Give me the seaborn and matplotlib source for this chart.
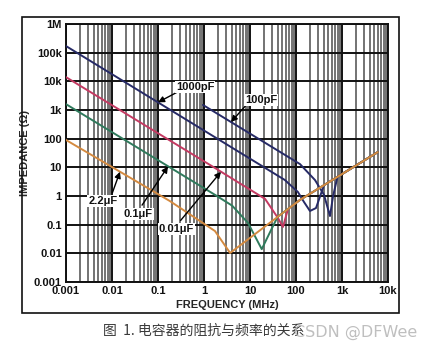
import matplotlib
matplotlib.use("Agg")
import matplotlib.pyplot as plt
import matplotlib.ticker as mticker
from matplotlib.patches import Rectangle
import pandas as pd
import seaborn as sns

# Impedance (ohm) versus frequency (MHz) for each capacitor
freq_100pF = [0.95, 122, 259, 406, 548, 640, 800, 6000]
imp_100pF = [1500, 13, 3.6, 1.1, 0.2, 1.0, 4.7, 34]

freq_1000pF = [0.001, 57.5, 110, 149, 201, 272, 406, 6000]
imp_1000pF = [170000, 3.6, 1.38, 0.62, 0.30, 0.38, 2.4, 34]

freq_0_01uF = [0.001, 1.73, 21.3, 40.6, 52, 67, 122, 6000]
imp_0_01uF = [14000, 9.5, 0.79, 0.17, 0.083, 0.35, 0.73, 34]

freq_0_1uF = [0.001, 1.73, 4.1, 9.05, 18, 28, 40, 122, 6000]
imp_0_1uF = [1600, 1.1, 0.46, 0.115, 0.014, 0.06, 0.19, 0.73, 34]

freq_2_2uF = [0.001, 0.18, 1.73, 3.7, 122, 6000]
imp_2_2uF = [90, 0.67, 0.06, 0.0103, 0.73, 34]

capacitors = ["100pF", "1000pF", "0.01μF", "0.1μF", "2.2μF"]
colors = ["#262a66", "#262a66", "#c43a62", "#2f7a5c", "#d48a40"]

x_ticks = [0.001, 0.01, 0.1, 1, 10, 100, 1000, 10000]
x_tick_labels = ["0.001", "0.01", "0.1", "1", "10", "100", "1k", "10k"]
y_ticks = [0.001, 0.01, 0.1, 1, 10, 100, 1e3, 1e4, 1e5, 1e6]
y_tick_labels = ["0.001", "0.01", "0.1", "1", "10", "100", "1k", "10k", "100k", "1M"]

# Curve labels: text, label position, arrow tail and tip (data coordinates)
label_text = ["1000pF", "100pF", "2.2μF", "0.1μF", "0.01μF"]
label_pos = [(0.64, 6300), (17.3, 2230), (0.0064, 0.67), (0.037, 0.23), (0.25, 0.07)]
label_tip = [(0.1, 1850), (3.86, 380), (0.0149, 7.0), (0.165, 10.7), (2.34, 7.0)]
label_tail = [(0.27, 4300), (8.0, 1400), (0.0102, 1.3), (0.045, 0.48), (0.31, 0.14)]

series = [(freq_100pF, imp_100pF), (freq_1000pF, imp_1000pF),
          (freq_0_01uF, imp_0_01uF), (freq_0_1uF, imp_0_1uF),
          (freq_2_2uF, imp_2_2uF)]
frames = []
for name, (f, z) in zip(capacitors, series):
    frames.append(pd.DataFrame({"freq": f, "imp": z, "cap": name}))
df = pd.concat(frames, ignore_index=True)

sns.set_theme(style="white")
plt.rcParams["font.family"] = ["Liberation Sans", "DejaVu Sans"]

fig = plt.figure(figsize=(4.29, 3.49), dpi=100)
ax = fig.add_axes([66 / 429, 1 - 282 / 349, 322 / 429, 258 / 349])

sns.lineplot(data=df, x="freq", y="imp", hue="cap", hue_order=capacitors,
             palette=dict(zip(capacitors, colors)), sort=False, estimator=None,
             legend=False, linewidth=1.4, ax=ax, zorder=3)

ax.set_xscale("log")
ax.set_yscale("log")
ax.set_xlim(0.001, 10000)
ax.set_ylim(0.001, 1e6)

ax.xaxis.set_minor_locator(mticker.LogLocator(base=10, subs=range(2, 10), numticks=50))
ax.xaxis.set_minor_formatter(mticker.NullFormatter())
ax.yaxis.set_minor_locator(mticker.NullLocator())
ax.set_xticks(x_ticks)
ax.set_xticklabels(x_tick_labels)
ax.set_yticks(y_ticks)
ax.set_yticklabels(y_tick_labels)
ax.tick_params(which="both", length=0)
ax.tick_params(axis="x", pad=3)
ax.tick_params(axis="y", pad=3)
for lab in ax.get_xticklabels() + ax.get_yticklabels():
    lab.set_fontsize(8)
    lab.set_fontweight("bold")
    lab.set_color("#111111")

ax.set_axisbelow(True)
ax.grid(which="minor", axis="x", color="#4d4d4d", linewidth=1.1)
ax.grid(which="major", axis="x", color="#111111", linewidth=1.4)
ax.grid(which="major", axis="y", color="#111111", linewidth=1.4)
for sp in ax.spines.values():
    sp.set_color("#111111")
    sp.set_linewidth(1.4)

ax.set_xlabel("FREQUENCY (MHz)", fontsize=8, fontweight="bold", labelpad=3)
ax.set_ylabel("IMPEDANCE (Ω)", fontsize=8, fontweight="bold", labelpad=3)

for text, pos, tip, tail in zip(label_text, label_pos, label_tip, label_tail):
    ax.annotate("", xy=tip, xytext=tail,
                arrowprops=dict(arrowstyle="-|>", color="black", lw=1.0,
                                mutation_scale=9, shrinkA=0, shrinkB=0),
                zorder=5)
    ax.text(pos[0], pos[1], text, ha="center", va="center", fontsize=8,
            fontweight="bold", color="#111111", zorder=6,
            bbox=dict(boxstyle="square,pad=0.1", fc="white", ec="none"))

# Frame around the chart
fig.patches.append(Rectangle((22 / 429, 1 - 313 / 349), 377 / 429, 296 / 349,
                             transform=fig.transFigure, fill=False,
                             edgecolor="#111111", linewidth=1.2))

fig.text(103 / 429, 1 - 331 / 349, "图  1. 电容器的阻抗与频率的关系",
         fontsize=10, color="#3a3a3a", ha="left", va="center",
         family=["Noto Sans CJK SC", "DejaVu Sans"])
fig.text(294 / 429, 1 - 332 / 349, "CSDN @DFWee", fontsize=11.5,
         color="#b8b8b8", alpha=0.9, ha="left", va="center",
         family=["DejaVu Sans"])

fig.savefig("out.png", dpi=100, facecolor="white")
